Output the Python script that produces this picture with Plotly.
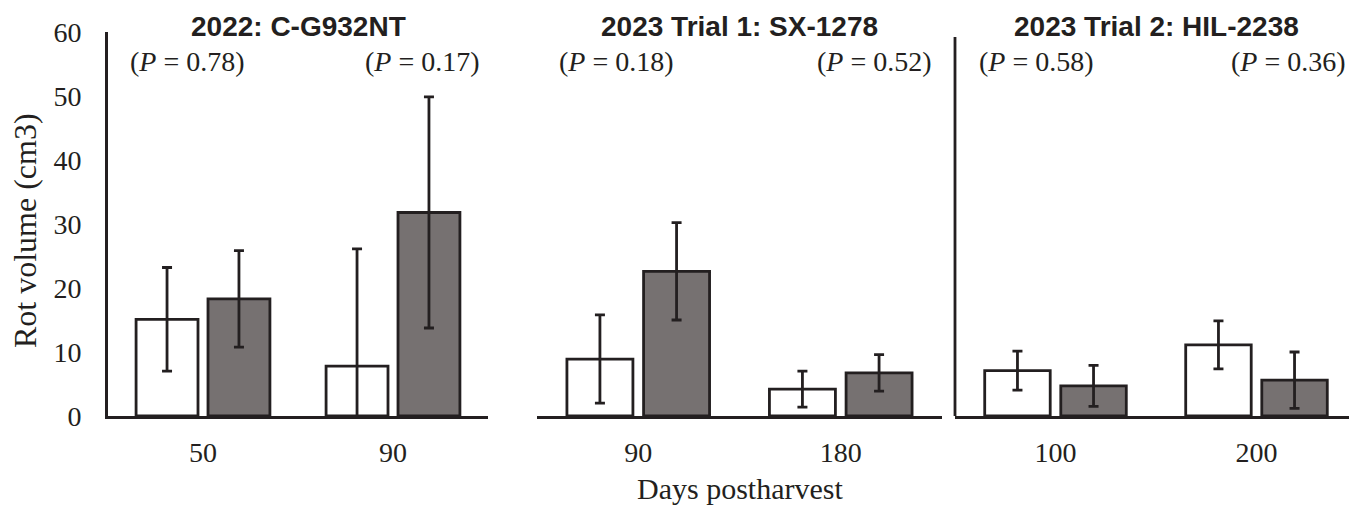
import plotly.graph_objects as go

# ---- data ----
panel_titles = ["2022: C-G932NT", "2023 Trial 1: SX-1278", "2023 Trial 2: HIL-2238"]
categories_p1 = ["50", "90"]
categories_p2 = ["90", "180"]
categories_p3 = ["100", "200"]

white_p1 = [15.1, 7.8]
white_err_p1 = [8.1, 18.3]
gray_p1 = [18.3, 31.8]
gray_err_p1 = [7.55, 18.05]

white_p2 = [8.9, 4.2]
white_err_p2 = [6.9, 2.8]
gray_p2 = [22.6, 6.75]
gray_err_p2 = [7.6, 2.85]

white_p3 = [7.1, 11.1]
white_err_p3 = [3.05, 3.75]
gray_p3 = [4.7, 5.6]
gray_err_p3 = [3.2, 4.4]

p_values = ["0.78", "0.17", "0.18", "0.52", "0.58", "0.36"]
y_ticks = [0, 10, 20, 30, 40, 50, 60]

# ---- style ----
OFF = 8  # page body margin of the html page
W, H = 1357 - OFF, 506 - OFF
ML, MR, MT, MB = 0, 0, 32 - OFF, 90
PW, PH = W - ML - MR, H - MT - MB
INK = "#231f20"
GRAY = "#767171"
SERIF = "Liberation Serif, Times New Roman, serif"
SANS = "Liberation Sans, Arial, sans-serif"
LW = 2.8

def px_x(p):
    return (p - OFF - ML) / PW

def px_y(p):
    return (H - MB - (p - OFF)) / PH

domains = [(108, 488), (537, 942), (955, 1357)]

fig = go.Figure()
panels = [
    (categories_p1, white_p1, white_err_p1, gray_p1, gray_err_p1),
    (categories_p2, white_p2, white_err_p2, gray_p2, gray_err_p2),
    (categories_p3, white_p3, white_err_p3, gray_p3, gray_err_p3),
]

for i, (cats, wv, we, gv, ge) in enumerate(panels):
    xa = "x" if i == 0 else f"x{i+1}"
    ya = "y" if i == 0 else f"y{i+1}"
    for vals, errs, fill in [(wv, we, "white"), (gv, ge, GRAY)]:
        fig.add_trace(go.Bar(
            x=cats, y=vals, xaxis=xa, yaxis=ya,
            marker=dict(color=fill, line=dict(color=INK, width=LW)),
            error_y=dict(type="data", array=errs, visible=True,
                         color=INK, thickness=LW, width=5),
            showlegend=False, offsetgroup=fill,
        ))

layout = dict(
    width=W, height=H,
    margin=dict(l=ML, r=MR, t=MT, b=MB),
    plot_bgcolor="white", paper_bgcolor="white",
    barmode="group", bargap=0.243, bargroupgap=0.139,
    font=dict(family=SERIF, color=INK, size=28),
)
for i, (a, b) in enumerate(domains):
    sfx = "" if i == 0 else str(i + 1)
    layout[f"xaxis{sfx}"] = dict(
        domain=[px_x(a), min(px_x(b), 1.0)],
        anchor=f"y{sfx}", range=[-0.5, 1.5], type="category",
        showline=True, linecolor=INK, linewidth=LW,
        showgrid=False, zeroline=False, ticks="",
        tickfont=dict(family=SERIF, size=28, color=INK),
        ticklabelstandoff=9,
    )
    layout[f"yaxis{sfx}"] = dict(
        domain=[0, 1], anchor=f"x{sfx}", range=[0, 60],
        showline=(i == 0), linecolor=INK, linewidth=LW,
        showgrid=False, zeroline=False, ticks="",
        tickvals=y_ticks, showticklabels=(i == 0),
        tickfont=dict(family=SERIF, size=28, color=INK),
        ticklabelstandoff=18,
    )
fig.update_layout(**layout)

# vertical axis line of the third panel (shorter than the first)
fig.add_shape(type="line", xref="paper", yref="paper",
              x0=px_x(955), x1=px_x(955), y0=0, y1=px_y(37),
              line=dict(color=INK, width=LW))

annotations = []
for i, (a, b) in enumerate(domains):
    annotations.append(dict(
        text=f"<b>{panel_titles[i]}</b>", xref="paper", yref="paper",
        x=px_x((a + b) / 2), y=px_y(26), xanchor="center", yanchor="middle",
        showarrow=False, font=dict(family=SANS, size=28, color=INK)))
left_px = [128, 557, 977]
right_px = [482, 934, 1348]
for i in range(3):
    for j, (xp, anc) in enumerate([(left_px[i], "left"), (right_px[i], "right")]):
        annotations.append(dict(
            text=f"(<i>P</i> = {p_values[2 * i + j]})", xref="paper", yref="paper",
            x=px_x(xp), y=px_y(61), xanchor=anc, yanchor="middle",
            showarrow=False, font=dict(family=SERIF, size=28, color=INK)))
annotations.append(dict(
    text="Rot volume (cm3)", xref="paper", yref="paper",
    x=px_x(25), y=px_y(231), xanchor="center", yanchor="middle", textangle=-90,
    showarrow=False, font=dict(family=SERIF, size=32, color=INK)))
annotations.append(dict(
    text="Days postharvest", xref="paper", yref="paper",
    x=px_x(740), y=px_y(488), xanchor="center", yanchor="middle",
    showarrow=False, font=dict(family=SERIF, size=30, color=INK)))
fig.update_layout(annotations=annotations)

fig.write_html("out.html")
